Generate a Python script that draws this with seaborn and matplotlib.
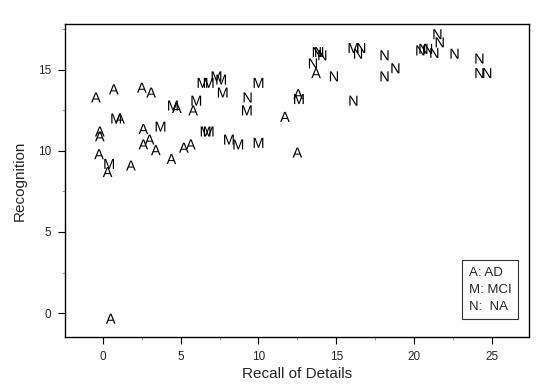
import numpy as np
import pandas as pd
import matplotlib
matplotlib.use("Agg")
import matplotlib.pyplot as plt
import seaborn as sns
from matplotlib.lines import Line2D
from matplotlib.ticker import MultipleLocator

# AD group
ad_x = [-0.45, 0.7, 2.5, 3.1, 4.75, 5.8, 1.1, -0.2, -0.2, 2.6, 2.6, 3.0, 3.4,
        5.2, 5.65, -0.25, 4.4, 0.3, 1.8, 13.7, 12.55, 11.7, 12.5, 0.5]
ad_y = [13.3, 13.8, 13.9, 13.6, 12.65, 12.5, 12.0, 11.2, 10.9, 11.35, 10.4, 10.7, 10.05,
        10.2, 10.4, 9.8, 9.5, 8.7, 9.1, 14.8, 13.5, 12.1, 9.9, -0.35]
# MCI group
mci_x = [6.4, 6.8, 7.3, 7.6, 7.7, 4.5, 6.0, 0.85, 3.7, 6.6, 6.8, 8.1, 8.7, 0.4,
         16.1, 10.0, 9.25, 12.6, 10.0]
mci_y = [14.2, 14.2, 14.6, 14.4, 13.6, 12.8, 13.1, 12.0, 11.5, 11.2, 11.2, 10.7, 10.4, 9.2,
         16.35, 14.2, 12.5, 13.2, 10.5]
# NA group
na_x = [13.75, 13.9, 14.1, 13.5, 14.85, 16.4, 16.6, 18.1, 18.1, 9.3, 16.1, 18.8,
        21.5, 21.65, 20.4, 20.6, 20.9, 21.3, 22.6, 24.2, 24.2, 24.7]
na_y = [16.1, 16.1, 15.9, 15.4, 14.6, 16.0, 16.35, 15.9, 14.6, 13.3, 13.1, 15.1,
        17.2, 16.7, 16.2, 16.3, 16.3, 16.05, 16.0, 15.7, 14.8, 14.8]

groups = ["A", "M", "N"]
legend_labels = ["A: AD", "M: MCI", "N:  NA"]

df = pd.DataFrame({
    "Recall of Details": ad_x + mci_x + na_x,
    "Recognition": ad_y + mci_y + na_y,
    "Group": ["A"] * len(ad_x) + ["M"] * len(mci_x) + ["N"] * len(na_x),
})

sns.set_style("white")
plt.rcParams["font.family"] = ["Liberation Sans", "DejaVu Sans"]
plt.rcParams["mathtext.fontset"] = "custom"
plt.rcParams["mathtext.rm"] = "Liberation Sans"

fig = plt.figure(figsize=(5.6, 3.91), dpi=100)
ax = fig.add_axes([0.116, 0.138, 0.829, 0.801])

markers = {g: r"$\mathrm{%s}$" % g for g in groups}
sns.scatterplot(data=df, x="Recall of Details", y="Recognition", style="Group",
                markers=markers, color="black", s=52, linewidth=0, legend=False, ax=ax)

ax.set_xlim(-2.44, 27.4)
ax.set_ylim(-1.48, 17.84)
ax.xaxis.set_major_locator(MultipleLocator(5))
ax.xaxis.set_minor_locator(MultipleLocator(2.5))
ax.yaxis.set_major_locator(MultipleLocator(5))
ax.yaxis.set_minor_locator(MultipleLocator(2.5))
ax.tick_params(which="major", direction="out", length=5, width=0.8, labelsize=8.5,
               pad=5, bottom=True, left=True, color="black")
ax.tick_params(which="minor", direction="out", length=2.5, width=0.6,
               bottom=True, left=True, color="gray")
for sp in ax.spines.values():
    sp.set_color("black")
    sp.set_linewidth(1.0)
ax.set_xlabel("Recall of Details", fontsize=11, labelpad=3)
ax.set_ylabel("Recognition", fontsize=11, labelpad=8)

handles = [Line2D([], [], linestyle="none") for _ in legend_labels]
leg = ax.legend(handles, legend_labels, loc="lower right", handlelength=0, handletextpad=0,
                fontsize=9.5, frameon=True, fancybox=False, borderpad=0.5,
                labelspacing=0.35, bbox_to_anchor=(0.99, 0.035))
leg.get_frame().set_edgecolor("black")
leg.get_frame().set_linewidth(0.8)

fig.savefig("out.png", dpi=100)
